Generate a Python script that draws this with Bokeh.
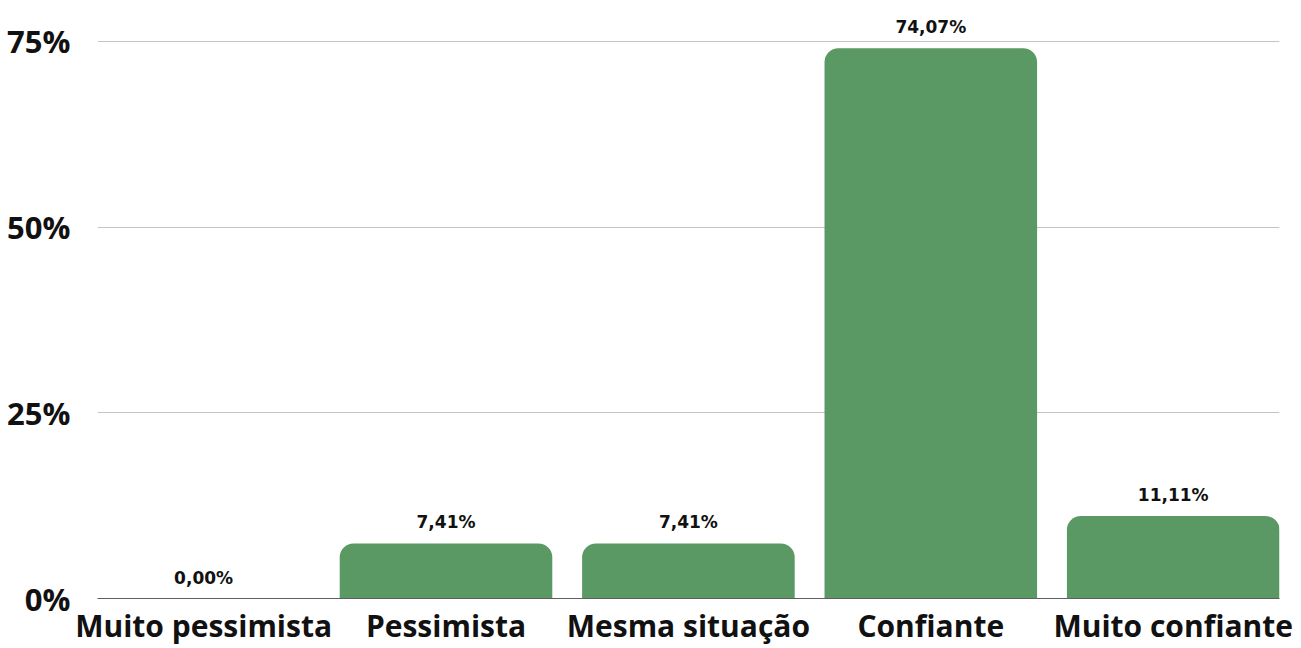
from bokeh.plotting import figure
from bokeh.models import Range1d, FixedTicker, ColumnDataSource
from bokeh.core.properties import value
from bokeh.embed import file_html
from bokeh.resources import INLINE

categories = ["Muito pessimista", "Pessimista", "Mesma situação", "Confiante", "Muito confiante"]
values = [0.00, 7.41, 7.41, 74.07, 11.11]
value_labels = ["0,00%", "7,41%", "7,41%", "74,07%", "11,11%"]
y_ticks = [0, 25, 50, 75]
y_tick_labels = ["0%", "25%", "50%", "75%"]

FONT = "Open Sans"
xs = list(range(len(categories)))
src = ColumnDataSource(dict(x=xs, top=values, label=value_labels))

p = figure(width=1301, height=648, output_backend="svg", toolbar_location=None,
           x_range=Range1d(-0.4377, len(categories) - 1 + 0.4385),
           y_range=Range1d(0, 80.5),
           min_border_left=97, min_border_right=22, min_border_top=0, min_border_bottom=0)

p.vbar(x="x", top="top", bottom=0, width=0.877, source=src,
       fill_color="#5a9964", line_color=None, border_radius=(14, 14, 0, 0))

p.text(x="x", y="top", text="label", source=src, text_align="center",
       text_baseline="alphabetic", y_offset=-21, text_font=value("DejaVu Sans"),
       text_font_style="bold", text_font_size="17px", text_color="#111111")

p.outline_line_color = None
p.xgrid.grid_line_color = None
p.ygrid.ticker = FixedTicker(ticks=[25, 50, 75])
p.ygrid.grid_line_color = "#c4c4c4"
p.ygrid.grid_line_width = 1

p.yaxis.ticker = FixedTicker(ticks=y_ticks)
p.yaxis.major_label_overrides = {t: l for t, l in zip(y_ticks, y_tick_labels)}
p.yaxis.axis_line_color = None
p.yaxis.major_tick_line_color = None
p.yaxis.minor_tick_line_color = None
p.yaxis.major_label_text_font = FONT
p.yaxis.major_label_text_font_style = "bold"
p.yaxis.major_label_text_font_size = "31px"
p.yaxis.major_label_text_color = "#111111"
p.yaxis.major_label_standoff = 21

p.xaxis.ticker = FixedTicker(ticks=xs)
p.xaxis.major_label_overrides = {x: c for x, c in zip(xs, categories)}
p.xaxis.axis_line_color = "#5f5f5f"
p.xaxis.axis_line_width = 1.2
p.xaxis.major_tick_line_color = None
p.xaxis.minor_tick_line_color = None
p.xaxis.major_label_text_font = FONT
p.xaxis.major_label_text_font_style = "bold"
p.xaxis.major_label_text_font_size = "30px"
p.xaxis.major_label_text_color = "#111111"
p.xaxis.major_label_standoff = 0

open("out.html", "w").write(file_html(p, INLINE))
